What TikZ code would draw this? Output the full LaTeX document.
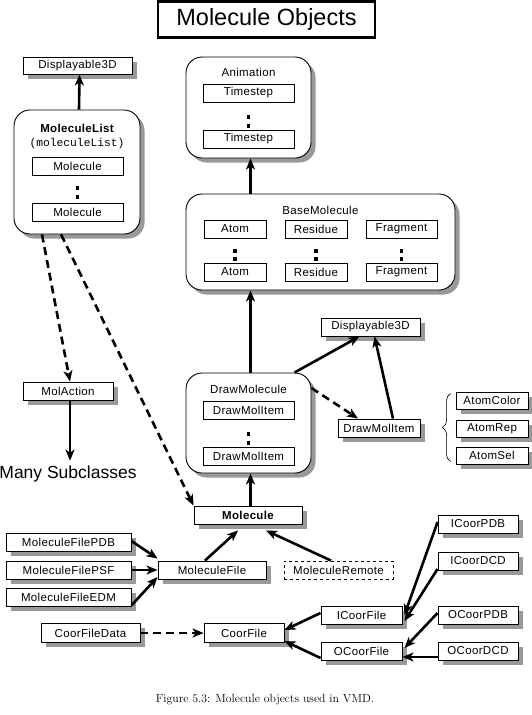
\documentclass[tikz,border=0pt]{standalone}
\usepackage{fontspec}
\newfontfamily\boxfont[LetterSpace=3]{Liberation Sans}
\newfontfamily\plainsans{Liberation Sans}
\newfontfamily\monofont{Liberation Mono}
\usetikzlibrary{shadows,arrows.meta,decorations.pathreplacing}
\begin{document}
\begin{tikzpicture}[x=1pt,y=-1pt,
  lbl/.style={font=\boxfont\fontsize{11.5}{13}\selectfont},
  blbl/.style={font=\boxfont\bfseries\fontsize{11.5}{13}\selectfont},
  cls/.style={draw, line width=0.9pt, fill=white, rectangle, inner sep=0pt, minimum height=18pt, lbl},
  shd/.style={general shadow={fill=black!40, shadow xshift=4.5pt, shadow yshift=-4.5pt}},
  box/.style={cls, shd},
  grp/.style={draw, line width=0.9pt, fill=white, rounded corners=16pt, inner sep=0pt, shd},
  dotm/.style={fill=black, inner sep=0pt, minimum size=3.4pt},
  arr/.style={line width=2.6pt, -{Stealth[length=11pt,width=9pt,inset=3pt]}},
  darr/.style={arr, dash pattern=on 8pt off 5pt},
]
\useasboundingbox (0,0) rectangle (532,715);

% title
\node[draw, line width=2.4pt, minimum width=217pt, minimum height=36pt, inner sep=0pt,
      font=\plainsans\fontsize{23.5}{26}\selectfont] (title) at (266.5,19.5) {Molecule Objects};

% MoleculeList group
\node[box, minimum width=109pt, minimum height=17pt] (d3a) at (77.5,65.5) {Displayable3D};
\node[grp, minimum width=126pt, minimum height=124pt] (mlist) at (77,172) {};
\node[blbl] (mlt) at (77,128) {MoleculeList};
\node[font=\monofont\fontsize{11.3}{13}\selectfont] (mltt) at (77,144) {(moleculeList)};
\node[cls, minimum width=91pt] (m1) at (77.5,166) {Molecule};
\node[dotm] (md1) at (77.5,188) {};
\node[dotm] (md2) at (77.5,197) {};
\node[cls, minimum width=91pt] (m2) at (77.5,212) {Molecule};

% Animation group
\node[grp, minimum width=125pt, minimum height=101pt] (anim) at (248.5,107.5) {};
\node[lbl] (animt) at (248.5,72) {Animation};
\node[cls, minimum width=91pt] (t1) at (248.5,93) {Timestep};
\node[dotm] (td1) at (248.5,117) {};
\node[dotm] (td2) at (248.5,126) {};
\node[cls, minimum width=91pt] (t2) at (248.5,139) {Timestep};

% BaseMolecule group
\node[grp, minimum width=269pt, minimum height=96pt] (base) at (320.5,242) {};
\node[lbl] (baset) at (320.5,210) {BaseMolecule};
\node[cls, minimum width=62pt] (a1) at (235,229) {Atom};
\node[cls, minimum width=62pt] (r1) at (316,229) {Residue};
\node[cls, minimum width=71pt] (f1) at (401.5,229) {Fragment};
\node[dotm] (ad1) at (235,251) {};
\node[dotm] (ad2) at (235,259) {};
\node[dotm] (rd1) at (316,251) {};
\node[dotm] (rd2) at (316,259) {};
\node[dotm] (fd1) at (401.5,251) {};
\node[dotm] (fd2) at (401.5,259) {};
\node[cls, minimum width=62pt] (a2) at (235,272) {Atom};
\node[cls, minimum width=62pt] (r2) at (316,272) {Residue};
\node[cls, minimum width=71pt] (f2) at (401.5,272) {Fragment};

% DrawMolecule group
\node[grp, minimum width=125pt, minimum height=100pt] (dmol) at (248.5,423) {};
\node[lbl] (dmolt) at (248.5,389) {DrawMolecule};
\node[cls, minimum width=91pt] (di1) at (248.5,410.5) {DrawMolItem};
\node[dotm] (dd1) at (248.5,434) {};
\node[dotm] (dd2) at (248.5,443) {};
\node[cls, minimum width=91pt] (di2) at (248.5,456.5) {DrawMolItem};

\node[box, minimum width=99pt] (d3b) at (370.5,327) {Displayable3D};
\node[box, minimum width=82pt] (dmi) at (379,428) {DrawMolItem};
\node[box, minimum width=72pt, minimum height=17pt] (ac) at (492,400.5) {AtomColor};
\node[box, minimum width=72pt, minimum height=17pt] (arp) at (492,428.5) {AtomRep};
\node[box, minimum width=72pt, minimum height=17pt] (asl) at (492,455.5) {AtomSel};
\draw[line width=0.6pt, decorate, decoration={brace, amplitude=8pt}]
  ([xshift=-5pt,yshift=3pt]asl.south west) -- ([xshift=-5pt,yshift=-2pt]ac.north west);

% left column
\node[box, minimum width=90pt] (molact) at (68,391) {MolAction};
\node[font=\plainsans\fontsize{17.5}{20}\selectfont, inner sep=0pt] (many) at (68,474) {Many Subclasses};

% Molecule and files
\node[box, blbl, minimum width=108pt] (mol) at (248,515) {Molecule};
\node[box, minimum width=125pt] (pdb) at (68.5,542) {MoleculeFilePDB};
\node[box, minimum width=125pt] (psf) at (68.5,570) {MoleculeFilePSF};
\node[box, minimum width=125pt] (edm) at (68.5,597) {MoleculeFileEDM};
\node[box, minimum width=108pt] (mf) at (212,570) {MoleculeFile};
\node[cls, dashed, minimum width=109pt] (mr) at (338.5,570) {MoleculeRemote};

\node[box, minimum width=80pt] (ipdb) at (478,524) {ICoorPDB};
\node[box, minimum width=80pt] (idcd) at (478,561) {ICoorDCD};
\node[box, minimum width=81pt] (icf) at (361.5,615) {ICoorFile};
\node[box, minimum width=80pt] (opdb) at (478,615) {OCoorPDB};
\node[box, minimum width=81pt] (ocf) at (361.5,651) {OCoorFile};
\node[box, minimum width=80pt] (odcd) at (478,651) {OCoorDCD};
\node[box, minimum width=80pt, minimum height=19pt] (cf) at (244,633) {CoorFile};
\node[box, minimum width=99pt, minimum height=19pt] (cfd) at (90.5,633) {CoorFileData};

% caption
\node[font=\fontsize{11.8}{14}\selectfont] (cap) at (265,700) {Figure 5.3: Molecule objects used in VMD.};

% connectors
\draw[arr] ([xshift=2pt]mlist.north) -- ([xshift=2pt]d3a.south);
\draw[arr] ([xshift=2pt]anim.south |- base.north) -- ([xshift=2pt]anim.south);
\draw[arr] ([xshift=2pt]dmol.north) -- ([xshift=2pt]dmol.north |- base.south);
\draw[arr] ([xshift=2.5pt]mol.north) -- ([xshift=2pt]dmol.south);
\draw[arr] ([xshift=-17pt]dmol.north east) -- ([xshift=-11pt]d3b.south);
\draw[arr] ([xshift=14pt]dmi.north) -- ([xshift=4pt]d3b.south);
\draw[darr] ([yshift=35pt]dmol.east) -- ([xshift=-21pt]dmi.north);
\draw[darr] ([xshift=-35pt]mlist.south) -- ([xshift=2pt]molact.north);
\draw[arr] ([xshift=2pt]molact.south) -- ([xshift=2pt,yshift=5pt]many.north);
\draw[darr] ([xshift=-16pt]mlist.south) -- (mol.north west);
\draw[arr] ([xshift=-7pt]mf.north) -- ([xshift=-10pt,yshift=-6pt]mol.south);
\draw[arr] ([xshift=-7.5pt]mr.north) -- ([xshift=18pt,yshift=-6pt]mol.south);
\draw[arr] ([yshift=1pt]pdb.east) -- ([yshift=2pt]mf.north west);
\draw[arr] (psf.east) -- (mf.west);
\draw[arr] ([yshift=1pt]edm.south east) -- ([yshift=-7pt]mf.west);
\draw[darr] (cfd.east) -- (cf.west);
\draw[arr] ([yshift=2pt]icf.west) -- ([yshift=3pt]cf.east);
\draw[arr] ([yshift=-7pt]ocf.west) -- ([yshift=-8pt]cf.east);
\draw[arr] ([yshift=2pt]ipdb.west) -- ([xshift=2pt]icf.east);
\draw[arr] ([yshift=-8pt]idcd.west) -- ([xshift=2pt,yshift=-6pt]icf.east);
\draw[arr] ([yshift=2pt]opdb.west) -- ([xshift=2pt,yshift=3pt]ocf.east);
\draw[arr] ([yshift=-6pt]odcd.west) -- ([yshift=-6pt]ocf.east);
\end{tikzpicture}
\end{document}
